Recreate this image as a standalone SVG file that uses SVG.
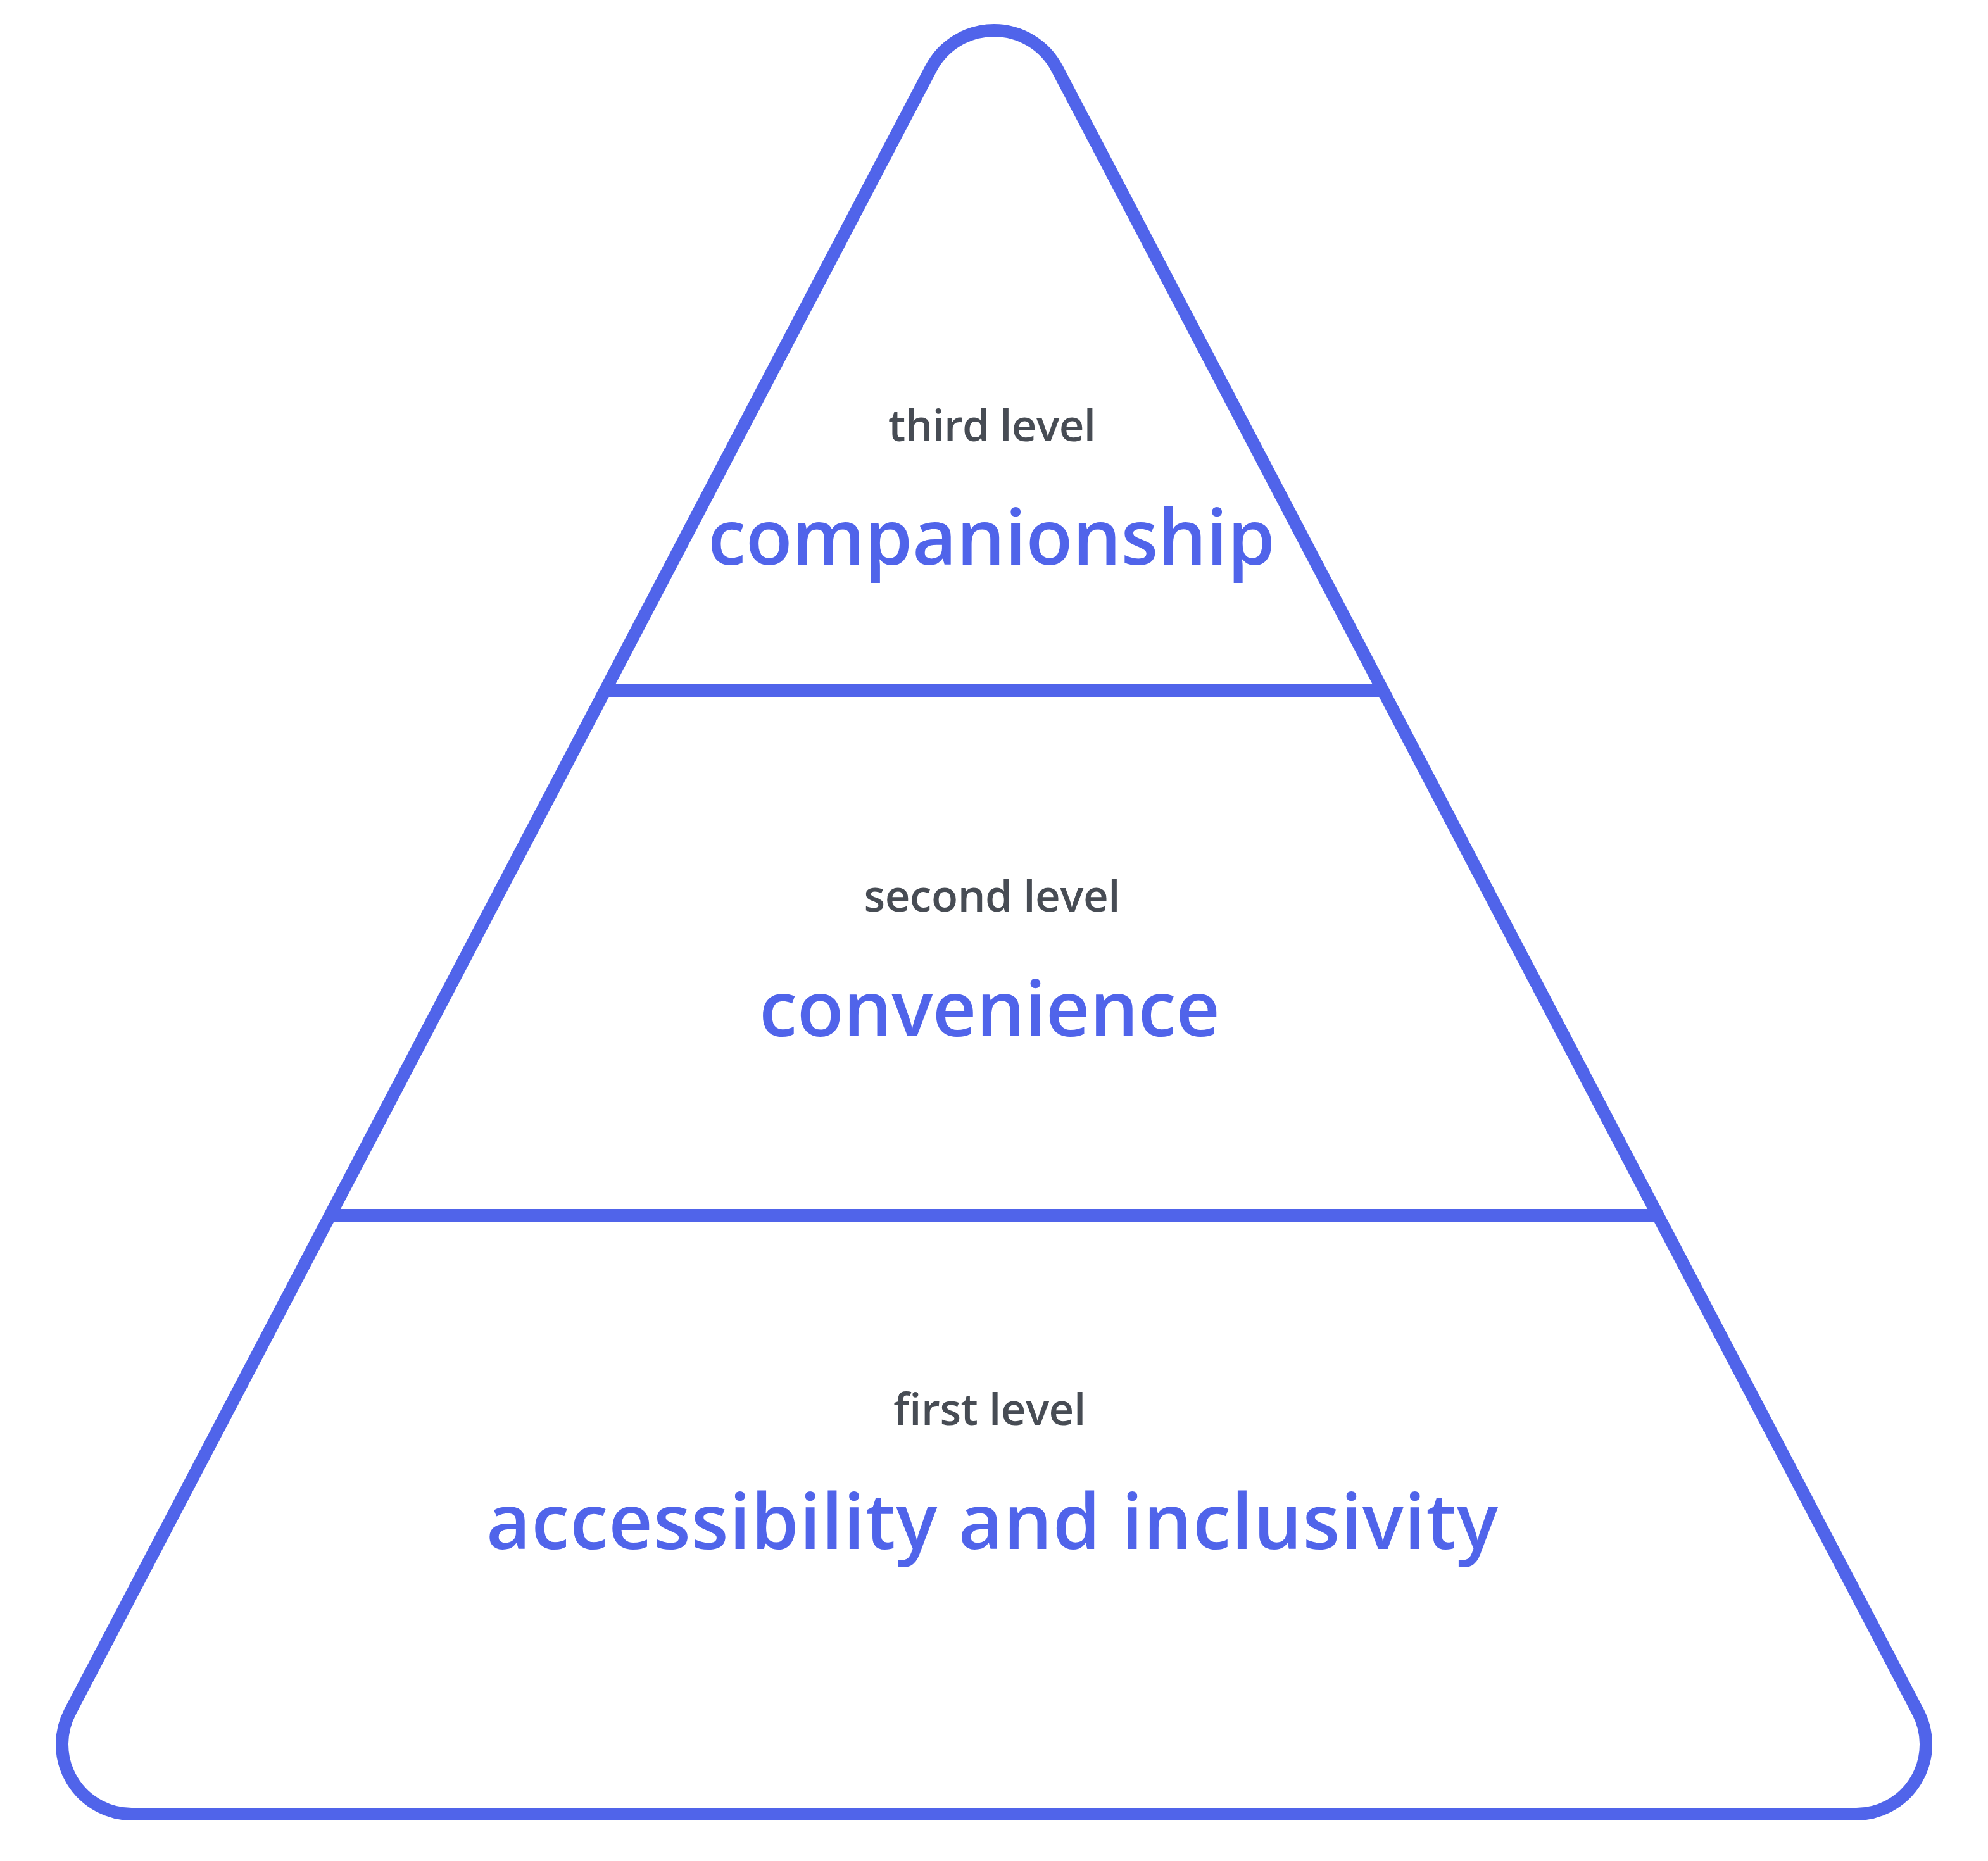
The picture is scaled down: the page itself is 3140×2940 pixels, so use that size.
<svg xmlns="http://www.w3.org/2000/svg" width="3140" height="2940" viewBox="0 0 3140 2940">
  <style>
    .frame { fill: none; stroke: #5064EA; stroke-width: 20; stroke-linejoin: round; }
    .divider { fill: none; stroke: #5064EA; stroke-width: 20; stroke-linecap: butt; }
    .level { font-family: "Open Sans", "Noto Sans", "Liberation Sans", sans-serif; font-weight: 600; font-size: 69px; fill: #474C54; text-anchor: middle; }
    .title { font-family: "Open Sans", "Noto Sans", "Liberation Sans", sans-serif; font-weight: 600; font-size: 121px; fill: #5064EA; text-anchor: middle; }
  </style>
  <rect width="3140" height="2940" fill="#FFFFFF"/>

  <!-- rounded pyramid outline -->
  <g id="pyramid">
    <path class="frame" d="M 1470.3 108.3 A 112.5 112.5 0 0 1 1669.7 108.3 L 3029.4 2704.5 A 110.3 110.3 0 0 1 2932 2866 L 208 2866 A 110.3 110.3 0 0 1 110.6 2704.5 Z"/>
  </g>

  <!-- tier dividers -->
  <g id="connectors">
    <line class="divider" x1="955.6" y1="1091" x2="2184.4" y2="1091"/>
    <line class="divider" x1="521.3" y1="1920" x2="2618.7" y2="1920"/>
  </g>

  <g id="tier-third">
    <text class="level" x="1567" y="697" textLength="328">third level</text>
    <text class="title" x="1566" y="892" textLength="896">companionship</text>
  </g>

  <g id="tier-second">
    <text class="level" x="1567" y="1440" textLength="405">second level</text>
    <text class="title" x="1563" y="1637" textLength="728">convenience</text>
  </g>

  <g id="tier-first">
    <text class="level" x="1563" y="2251" textLength="304">first level</text>
    <text class="title" x="1567" y="2447" textLength="1598">accessibility and inclusivity</text>
  </g>
</svg>
